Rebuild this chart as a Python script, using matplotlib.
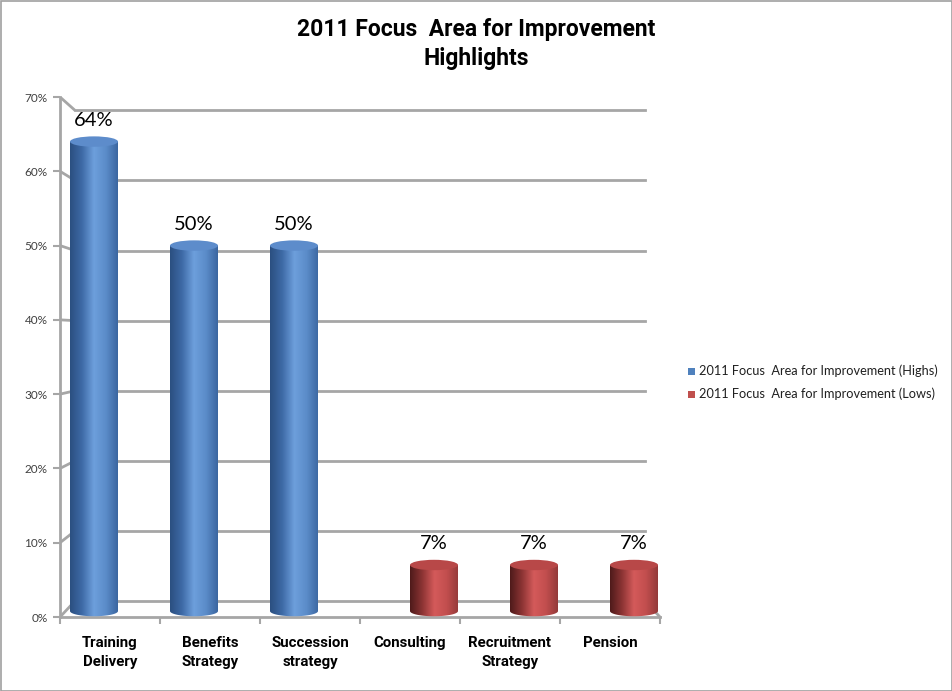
import numpy as np
import matplotlib
matplotlib.use("Agg")
import matplotlib.pyplot as plt
from matplotlib.patches import Rectangle, Ellipse, Path, PathPatch
from matplotlib.colors import LinearSegmentedColormap

plt.rcParams['font.family'] = ['Lato', 'DejaVu Sans']
BOLD = ['Roboto', 'DejaVu Sans']

categories = ["Training\nDelivery", "Benefits\nStrategy", "Succession\nstrategy",
              "Consulting", "Recruitment\nStrategy", "Pension"]
highs = [0.64, 0.50, 0.50, 0, 0, 0]
lows = [0, 0, 0, 0.07, 0.07, 0.07]
series_names = ["2011 Focus  Area for Improvement (Highs)",
                "2011 Focus  Area for Improvement (Lows)"]
yticks = [0, 0.1, 0.2, 0.3, 0.4, 0.5, 0.6, 0.7]
title = "2011 Focus  Area for Improvement\nHighlights"

W, H = 953, 691
fig = plt.figure(figsize=(W/100, H/100), dpi=100)
fig.patches.append(Rectangle((0.5/W, 0.5/H), 1-1.5/W, 1-1.5/H, transform=fig.transFigure,
                             fill=False, edgecolor="#a0a0a0", lw=1.2))

ax = fig.add_axes([60/W, (H-617)/H, 600/W, 520/H])
ax.set_xlim(0, 6)
ax.set_ylim(0, 0.7)
for s in ax.spines.values():
    s.set_visible(False)

grid_c = "#a6a6a6"
b0, b1 = 0.0215, 0.9436
bx0, bx1 = 0.15, 5.85
for v in yticks:
    bv = b0 + v * b1
    ax.plot([0, bx0], [v, bv], color=grid_c, lw=2, zorder=1, solid_capstyle='butt')
    ax.plot([bx0, bx1], [bv, bv], color=grid_c, lw=2, zorder=1)
ax.plot([0, 0], [0, 0.7], color=grid_c, lw=2, zorder=1, clip_on=False)
ax.plot([0, 6], [0, 0], color=grid_c, lw=2, zorder=1, clip_on=False)
ax.plot([bx1, 6], [b0, 0], color=grid_c, lw=2, zorder=1, clip_on=False)

ax.set_yticks(yticks)
ax.set_yticklabels([f"{int(round(v*100))}%" for v in yticks], fontsize=8.5, color="#404040")
ax.tick_params(axis='y', length=5, width=1.5, color=grid_c, pad=4)
ax.set_xticks(range(7))
ax.set_xticklabels([])
ax.tick_params(axis='x', length=5, width=1.5, color=grid_c)
ax.set_xticks([i + 0.5 for i in range(6)], minor=True)
ax.set_xticklabels(categories, minor=True, fontsize=10.8, fontweight='bold',
                   linespacing=1.45, family=BOLD)
ax.tick_params(axis='x', which='minor', length=0, pad=14)

blue_cmap = LinearSegmentedColormap.from_list("b", ["#2b4f80", "#3e6aa6", "#6d9fdc", "#5b8cc9", "#3b66a0"])
red_cmap = LinearSegmentedColormap.from_list("r", ["#4e1a1a", "#8c3434", "#d45a5a", "#c24e4e", "#933a3a"])

bw = 0.48
eh = 0.014
grad = np.linspace(0, 1, 256).reshape(1, -1)

def cylinder(xc, val, cmap, topc):
    x0, x1 = xc - bw/2, xc + bw/2
    ybot = 0.008
    t = np.linspace(np.pi, 2*np.pi, 40)
    bottom = np.column_stack([xc + bw/2*np.cos(t), ybot + eh/2*np.sin(t)])
    verts = np.vstack([[[x0, val]], bottom, [[x1, val]], [[x0, val]]])
    codes = [Path.MOVETO] + [Path.LINETO]*(len(verts)-2) + [Path.CLOSEPOLY]
    patch = PathPatch(Path(verts, codes), facecolor='none', edgecolor='none')
    ax.add_patch(patch)
    im = ax.imshow(grad, cmap=cmap, extent=[x0, x1, ybot - eh, val], aspect='auto',
                   zorder=3, interpolation='bilinear')
    im.set_clip_path(patch)
    ax.add_patch(Ellipse((xc, val), bw, eh, facecolor=topc, edgecolor='none', zorder=4))

hx = [i + 0.5 - 0.16 for i in range(6)]
lx = [i + 0.5 + 0.24 for i in range(6)]
for x, v in zip(hx, highs):
    if v > 0:
        cylinder(x, v, blue_cmap, "#5d8ccb")
        ax.text(x, v + 0.017, f"{int(round(v*100))}%", ha='center', va='bottom', fontsize=14.5)
for x, v in zip(lx, lows):
    if v > 0:
        cylinder(x, v, red_cmap, "#b84848")
        ax.text(x, v + 0.017, f"{int(round(v*100))}%", ha='center', va='bottom', fontsize=14.5)

ax.set_xlim(0, 6)
ax.set_ylim(0, 0.7)

fig.text(476/W, 1 - 44/H, title, ha='center', va='center', fontsize=16.5,
         fontweight='bold', linespacing=1.38, family=BOLD)

for i, (name, c) in enumerate(zip(series_names, ["#4f81bd", "#c0504d"])):
    y = 1 - (371 + 23*i)/H
    fig.patches.append(Rectangle((688/W, y - 3.5/H), 7/W, 7/H, transform=fig.transFigure,
                                 facecolor=c, edgecolor='none'))
    fig.text(699/W, y, name, ha='left', va='center', fontsize=9.2, color="#202020")

fig.savefig("out.png", dpi=100)
